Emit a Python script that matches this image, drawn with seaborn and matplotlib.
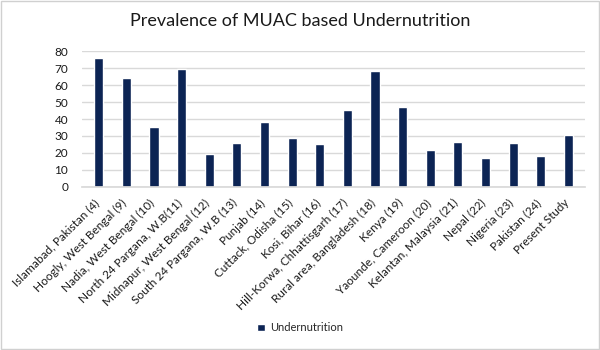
import matplotlib
matplotlib.use("Agg")
import matplotlib.pyplot as plt
import matplotlib.transforms as mtransforms
import seaborn as sns
import pandas as pd

categories = ["Islamabad, Pakistan (4)", "Hoogly, West Bengal (9)", "Nadia, West Bengal (10)",
              "North 24 Pargana, W.B(11)", "Midnapur, West Bengal (12)", "South 24 Pargana, W.B (13)",
              "Punjab (14)", "Cuttack, Odisha (15)", "Kosi, Bihar (16)", "Hill-Korwa, Chhattisgarh (17)",
              "Rural area, Bangladesh (18)", "Kenya (19)", "Yaounde, Cameroon (20)",
              "Kelantan, Malaysia (21)", "Nepal (22)", "Nigeria (23)", "Pakistan (24)", "Present Study"]
values = [76, 64.4, 35, 69.7, 19, 25.5, 38.4, 29, 25, 45.4, 68.5, 47.2, 21.7, 26.6, 17.1, 25.8, 18.3, 30.7]
series_name = "Undernutrition"

df = pd.DataFrame({"cat": categories, "val": values, "series": series_name})

sns.set_theme(style="white")
plt.rcParams['font.family'] = ['Lato', 'DejaVu Sans']

fig = plt.figure(figsize=(6, 3.5), dpi=100)
ax = fig.add_axes([0.137, 0.467, 0.838, 0.386])
sns.barplot(data=df, x="cat", y="val", hue="series", palette=["#002060"], width=0.33,
            dodge=False, ax=ax, legend=True)
ax.set_ylim(0, 80)
ax.set_yticks(range(0, 81, 10))
ax.yaxis.grid(True, color="#d9d9d9", linewidth=1)
ax.set_axisbelow(True)
for s in ["top", "right", "left"]:
    ax.spines[s].set_visible(False)
ax.spines["bottom"].set_color("#d9d9d9")
ax.set_xlabel("")
ax.set_ylabel("")
ax.tick_params(axis="y", length=0, labelsize=8.5, colors="#1a1a1a", pad=10)
ax.tick_params(axis="x", length=0, labelsize=8.5, colors="#1a1a1a", pad=2)
ax.set_xlim(-0.6, len(categories) - 0.4)
offset = mtransforms.ScaledTranslation(-5 / 100, -8 / 100, fig.dpi_scale_trans)
for lab in ax.get_xticklabels():
    lab.set_rotation(45)
    lab.set_ha("right")
    lab.set_rotation_mode("anchor")
    lab.set_transform(lab.get_transform() + offset)
fig.suptitle("Prevalence of MUAC based Undernutrition", y=0.963, fontsize=13, color="#1a1a1a")
ax.legend(loc="center", bbox_to_anchor=(0.5, 0.063), bbox_transform=fig.transFigure,
          frameon=False, fontsize=8, handlelength=0.7, handleheight=0.7, handletextpad=0.5)
fig.patches.append(matplotlib.patches.Rectangle((0.002, 0.003), 0.996, 0.994, transform=fig.transFigure,
                                                fill=False, edgecolor="#d0d0d0", linewidth=1))
fig.savefig("out.png", dpi=100)
